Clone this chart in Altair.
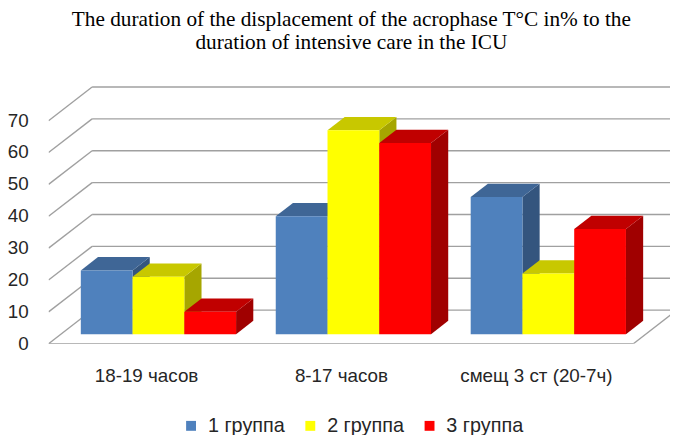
import altair as alt
import pandas as pd

# ---------------- data ----------------
categories = ["18-19 часов", "8-17 часов", "смещ 3 ст (20-7ч)"]
groups = ["1 группа", "2 группа", "3 группа"]
group1 = [20, 37, 43]
group2 = [18, 64, 19]
group3 = [7, 60, 33]
y_ticks = [0, 10, 20, 30, 40, 50, 60, 70]
title_lines = [
    "The duration of the displacement  of the acrophase T°C in% to the",
    "duration of intensive care in the ICU",
]

# ---------------- style / geometry ----------------
front_colors = ["#4F81BD", "#FFFF00", "#FF0000"]
top_colors = ["#3F6696", "#C8C800", "#C00000"]
side_colors = ["#34557E", "#A6A600", "#A00000"]
grid_color = "#A0A0A0"

PX_X = 197.0          # pixels per category unit
PX_Y = 3.22           # pixels per value unit
W, H = 628, 270
DXU = 44 / PX_X       # depth of the box in x units
DYU = 34 / PX_Y       # depth of the box in y units
Z0, Z1 = 0.285, 0.68  # bar depth range (0 = front, 1 = back)
BW = 0.2655           # bar width in category units

x_dom = [-0.5, -0.5 + W / PX_X]
y_dom = [0, H / PX_Y]
xs = alt.Scale(domain=x_dom, nice=False, zero=False)
ys = alt.Scale(domain=y_dom, nice=False, zero=False)

series = [group1, group2, group3]

front_rows, top_rows, side_rows = [], [], []
ddx = (Z1 - Z0) * DXU
ddy = (Z1 - Z0) * DYU
for i, cat in enumerate(categories):
    for k, g in enumerate(groups):
        v = series[k][i]
        bid = f"c{i}g{k}"
        xl = i + (k - 1.5) * BW
        X0 = xl + Z0 * DXU
        X1 = X0 + BW
        Y0 = Z0 * DYU
        Yt = v + Y0
        front_rows.append(dict(bar=bid, group=g, cat=cat, value=v, x=X0, x2=X1, y=Y0, y2=Yt))
        for (px, py, py2) in [(X0, Yt, Yt), (X0 + ddx, Yt, Yt + ddy),
                              (X1, Yt, Yt + ddy), (X1 + ddx, Yt + ddy, Yt + ddy)]:
            top_rows.append(dict(bar=bid, col=top_colors[k], x=px, y=py, y2=py2))
        for (px, py, py2) in [(X1, Y0, Yt), (X1 + ddx, Y0 + ddy, Yt + ddy)]:
            side_rows.append(dict(bar=bid, col=side_colors[k], x=px, y=py, y2=py2))

grid_rows = []
for v in y_ticks:
    grid_rows.append(dict(x=-0.5, y=v, x2=-0.5 + DXU, y2=v + DYU))
    grid_rows.append(dict(x=-0.5 + DXU, y=v + DYU, x2=2.5 + DXU, y2=v + DYU))
grid_rows.append(dict(x=-0.5, y=0, x2=2.5, y2=0))
grid_rows.append(dict(x=2.5, y=0, x2=2.5 + DXU, y2=DYU))

front_df = pd.DataFrame(front_rows)
top_df = pd.DataFrame(top_rows)
side_df = pd.DataFrame(side_rows)
grid_df = pd.DataFrame(grid_rows)
ylab_df = pd.DataFrame({"v": y_ticks, "x": [-0.5] * len(y_ticks)})

label_expr = "[" + ",".join("'" + c + "'" for c in categories) + "][datum.value]"
FONT = "Liberation Sans"
TXT = "#262626"

grid = alt.Chart(grid_df).mark_rule(color=grid_color, strokeWidth=1.4, clip=True).encode(
    x=alt.X("x:Q", scale=xs, axis=alt.Axis(
        values=[0, 1, 2], labelExpr=label_expr, title=None, grid=False,
        domain=False, ticks=False, tickSize=0, labelPadding=23,
        labelOverlap=False, labelFont=FONT, labelFontSize=19, labelColor=TXT)),
    y=alt.Y("y:Q", scale=ys, axis=None),
    x2="x2:Q", y2="y2:Q",
)

ylabels = alt.Chart(ylab_df).mark_text(
    align="right", baseline="middle", dx=-20, font=FONT, fontSize=19, color=TXT
).encode(
    x=alt.X("x:Q", scale=xs),
    y=alt.Y("v:Q", scale=ys),
    text=alt.Text("v:Q"),
)

sides = alt.Chart(side_df).mark_area(opacity=1).encode(
    x=alt.X("x:Q", scale=xs),
    y=alt.Y("y:Q", scale=ys),
    y2="y2:Q",
    detail="bar:N",
    fill=alt.Fill("col:N", scale=None),
)

tops = alt.Chart(top_df).mark_area(opacity=1).encode(
    x=alt.X("x:Q", scale=xs),
    y=alt.Y("y:Q", scale=ys),
    y2="y2:Q",
    detail="bar:N",
    fill=alt.Fill("col:N", scale=None),
)

fronts = alt.Chart(front_df).mark_rect(opacity=1).encode(
    x=alt.X("x:Q", scale=xs),
    x2="x2:Q",
    y=alt.Y("y:Q", scale=ys),
    y2="y2:Q",
    color=alt.Color("group:N", scale=alt.Scale(domain=groups, range=front_colors),
                    legend=alt.Legend(
                        title=None, orient="none", legendX=134, legendY=343,
                        direction="horizontal", symbolType="square",
                        symbolSize=100, symbolStrokeWidth=0, labelFont=FONT,
                        labelFontSize=20, labelColor=TXT,
                        columnPadding=15.5, labelOffset=7)),
    tooltip=["cat:N", "group:N", "value:Q"],
)

chart = alt.layer(grid, ylabels, sides, tops, fronts).properties(
    width=W, height=H,
    autosize=alt.AutoSizeParams(type="none"),
    padding={"left": 41, "top": 67, "right": 0, "bottom": 92},
    background="white",
    title=alt.TitleParams(
        text=title_lines, font="Liberation Serif", fontSize=21.5,
        fontWeight="normal", color="black", anchor="middle",
        offset=23, lineHeight=24, dx=-8),
).configure_view(stroke=None)

chart.save("out.html", embed_options={"renderer": "svg", "actions": False})
